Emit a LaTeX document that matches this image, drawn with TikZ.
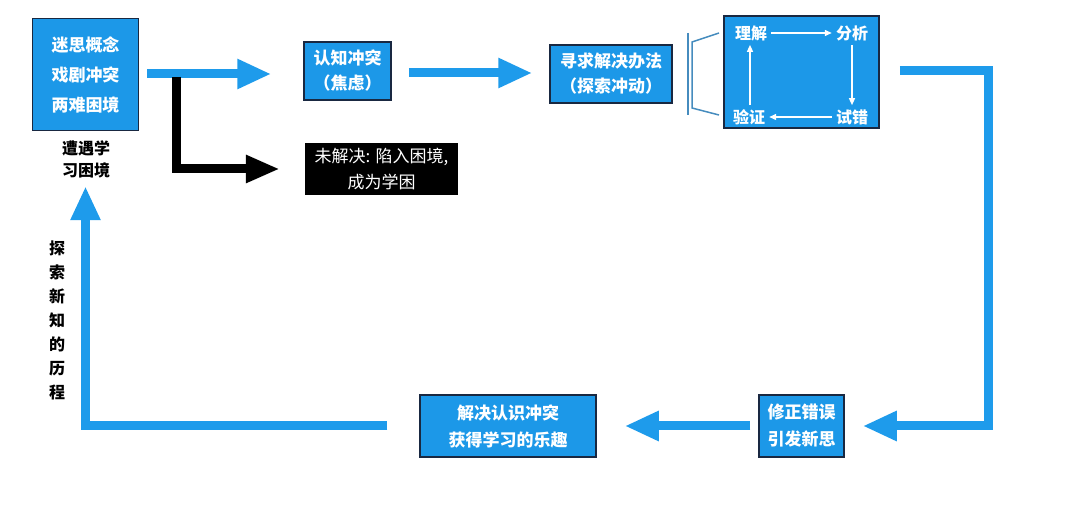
\documentclass[tikz,border=0pt]{standalone}
\usepackage{fontspec}
\setmainfont{Noto Sans CJK SC}
\usetikzlibrary{arrows.meta}
\definecolor{stageblue}{RGB}{28,152,232}
\definecolor{flowblue}{RGB}{30,155,235}
\definecolor{boxline}{RGB}{25,40,65}
\definecolor{bracketblue}{RGB}{70,140,190}

\begin{document}
\begin{tikzpicture}[x=1pt,y=1pt]
\tikzset{
 stage/.style={draw=boxline, line width=1.5pt, fill=stageblue, text=white, align=center, inner sep=0pt, font=\fontsize{17}{25}\selectfont\bfseries},
 flow/.style={draw=flowblue, line width=9pt, -{Triangle[length=34pt,width=28pt]}},
 stuck/.style={draw=black, line width=9pt, -{Triangle[length=34pt,width=26pt]}},
 looptxt/.style={text=white, inner sep=1pt, font=\fontsize{16}{16}\selectfont\bfseries},
 loop/.style={draw=white, line width=1.3pt, shorten <=3pt, shorten >=3pt, -{Triangle[length=7pt,width=6pt]}}
}
\useasboundingbox (0,0) rectangle (1080,520);

% stages
\node[stage, minimum width=106pt, minimum height=112pt, font=\fontsize{17}{30}\selectfont\bfseries] (b1) at (85.5,445.5) {迷思概念\\戏剧冲突\\两难困境};
\node[stage, minimum width=87pt, minimum height=58pt] (b2) at (347.5,449) {认知冲突\\（焦虑）};
\node[stage, minimum width=122pt, minimum height=58pt] (b3) at (611,446) {寻求解决办法\\（探索冲动）};
\node[stage, minimum width=155pt, minimum height=112pt] (b4) at (801.5,448) {};
\node[stage, minimum width=85pt, minimum height=62pt, font=\fontsize{17}{27}\selectfont\bfseries] (b5) at (801.5,94) {修正错误\\引发新思};
\node[stage, minimum width=176pt, minimum height=62pt, font=\fontsize{17}{27}\selectfont\bfseries] (b6) at (508,94) {解决认识冲突\\获得学习的乐趣};
\node[fill=black, text=white, align=center, minimum width=153pt, minimum height=52pt, inner sep=0pt, font=\fontsize{17}{26}\selectfont] (note) at (381.5,351) {未解决: 陷入困境,\\成为学困};

% labels
\node[align=center, font=\fontsize{16}{22}\selectfont\bfseries] (trap) at (86,361) {遭遇学\\习困境};
\node[align=center, font=\fontsize{16}{24}\selectfont\bfseries] (path) at (57,200) {探\\索\\新\\知\\的\\历\\程};

% inner loop
\node[looptxt] (lj) at (751,487) {理解};
\node[looptxt] (fx) at (852,487) {分析};
\node[looptxt] (sc) at (852,403) {试错};
\node[looptxt] (yz) at (749,403) {验证};
\draw[loop] (lj) -- (fx);
\draw[loop] (fx) -- (sc);
\draw[loop] (sc) -- (yz);
\draw[loop] (yz.north -| 750,0) -- (lj.south -| 750,0);

% bracket
\draw[bracketblue, line width=1.5pt] (688,487) -- (688,405);
\draw[bracketblue, line width=1.5pt] (719,487) -- (692,478) -- (692,412) -- (719,405);

% flows
\draw[flow, shorten <=8pt, shorten >=32pt] (b1.east |- 0,446) -- (b2.west |- 0,446);
\coordinate (split) at (176,443);
\draw[stuck, shorten >=25pt] (split) |- (note.west);
\draw[flow, shorten <=17pt, shorten >=17pt] (b2.east |- 0,447) -- (b3.west |- 0,447);
\draw[flow, shorten <=20pt, shorten >=18pt] (b4.east |- 0,449) -| (988,94) -- (b5.east);
\draw[flow, shorten <=8pt, shorten >=28pt] (b5.west) -- (b6.east);
\draw[flow, shorten <=32pt, shorten >=55pt] (b6.west) -| (b1.south);
\end{tikzpicture}
\end{document}
